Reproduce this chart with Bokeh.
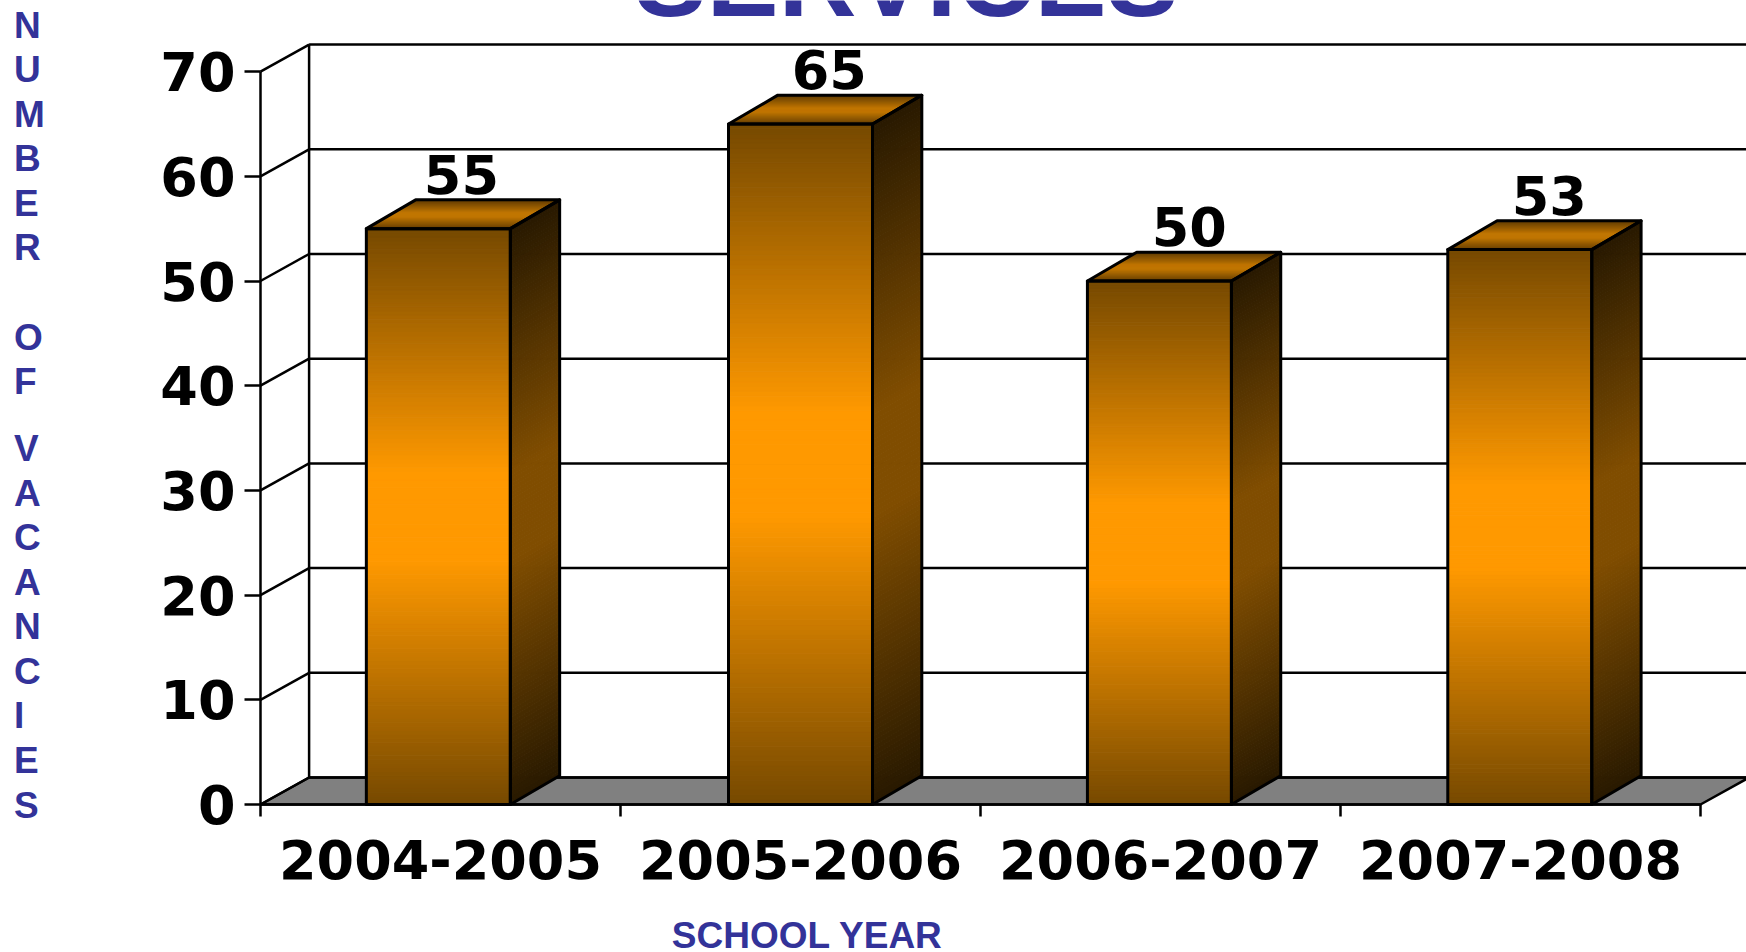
from bokeh.core.properties import value
from bokeh.embed import file_html
from bokeh.models import FixedTicker, Label, LinearAxis, Range1d
from bokeh.plotting import figure
from bokeh.resources import INLINE

# Chart data
school_years = ["2004-2005", "2005-2006", "2006-2007", "2007-2008"]
vacancies = [55, 65, 50, 53]
value_ticks = [0, 10, 20, 30, 40, 50, 60, 70]
title_text = "SERVICES"
x_title = "SCHOOL YEAR"
y_title_letters = list("NUMBEROFVACANCIES")
y_title_rows = [0, 1, 2, 3, 4, 5, 7, 8, 9.5, 10.5, 11.5, 12.5, 13.5, 14.5, 15.5, 16.5, 17.5]

# Page geometry: the plot area fills the page, the axes sit at fixed data positions
PAGE_W, PAGE_H = 1746, 952
ORIGIN_X, ORIGIN_Y = 260, 804
PX_PER_CATEGORY = 360.0
PX_PER_UNIT = 10.47

# Oblique depth of the walls and the bars
WALL_DX, WALL_DY = 0.135, 2.58
BAR_DX, BAR_DY = 0.137, 2.75
BAR_HALF = 0.2
bar_centers = [-0.006, 1.0, 1.997, 2.998]

x_axis_at = -0.5
x_last = 3.5
x_start = x_axis_at - ORIGIN_X / PX_PER_CATEGORY
x_end = x_axis_at + (PAGE_W - ORIGIN_X) / PX_PER_CATEGORY
y_start = -(PAGE_H - ORIGIN_Y) / PX_PER_UNIT
y_end = ORIGIN_Y / PX_PER_UNIT

BLUE = "#333399"
BLACK = "#000000"
FONT_NUM = "DejaVu Sans"
FONT_TXT = "Liberation Sans"
BASELINE_SHIFT = 0.35  # of the font size, lifts SVG text onto its baseline
PLATEAU = 0.85         # share of the way to mid height where a gradient is fully bright


def blend(a, b, t):
    return "#%02x%02x%02x" % tuple(round(a[i] + (b[i] - a[i]) * t) for i in range(3))


def ramp(edge, mid, t):
    # edge colour at both ends, mid colour across the middle
    return blend(edge, mid, min(1.0, (1 - abs(2 * t - 1)) / PLATEAU))


FRONT = ((0x76, 0x49, 0x00), (0xff, 0x99, 0x00))
SIDE = ((0x28, 0x19, 0x00), (0x80, 0x4d, 0x00))
TOP = ((0x62, 0x3c, 0x00), (0xc0, 0x75, 0x00))

p = figure(
    width=PAGE_W, height=PAGE_H, output_backend="svg", toolbar_location=None,
    x_range=Range1d(x_start, x_end), y_range=Range1d(y_start, y_end),
    min_border=0, x_axis_type=None, y_axis_type=None, outline_line_color=None,
    background_fill_color="white", border_fill_color="white",
)
p.grid.visible = False

# Floor
p.patch(
    [x_axis_at, x_last, x_last + WALL_DX, x_axis_at + WALL_DX], [0, 0, WALL_DY, WALL_DY],
    fill_color="#808080", line_color=BLACK, line_width=2.5,
)

# Back wall gridlines, side wall diagonals and wall edge
p.segment(
    [x_axis_at + WALL_DX] * len(value_ticks), [t + WALL_DY for t in value_ticks],
    [x_end] * len(value_ticks), [t + WALL_DY for t in value_ticks],
    line_color=BLACK, line_width=2.5,
)
p.segment(
    [x_axis_at] * len(value_ticks), value_ticks,
    [x_axis_at + WALL_DX] * len(value_ticks), [t + WALL_DY for t in value_ticks],
    line_color=BLACK, line_width=2.5,
)
p.segment(
    [x_axis_at + WALL_DX], [WALL_DY], [x_axis_at + WALL_DX], [value_ticks[-1] + WALL_DY],
    line_color=BLACK, line_width=2.5,
)

# Bars: each face is a stack of thin strips carrying its gradient
STRIPS = 140
TOP_STRIPS = 28
xs, ys, colors = [], [], []
for c, v in zip(bar_centers, vacancies):
    l, r = c - BAR_HALF, c + BAR_HALF
    for k in range(STRIPS):
        y0, y1 = v * k / STRIPS, v * (k + 1) / STRIPS
        t = (k + 0.5) / STRIPS
        xs.append([l, r, r, l])
        ys.append([y0, y0, y1, y1])
        colors.append(ramp(*FRONT, t))
        xs.append([r, r + BAR_DX, r + BAR_DX, r])
        ys.append([y0, y0 + BAR_DY, y1 + BAR_DY, y1])
        colors.append(ramp(*SIDE, t))
    for k in range(TOP_STRIPS):
        a, b = k / TOP_STRIPS, (k + 1) / TOP_STRIPS
        t = (k + 0.5) / TOP_STRIPS
        xs.append([l + a * BAR_DX, r + a * BAR_DX, r + b * BAR_DX, l + b * BAR_DX])
        ys.append([v + a * BAR_DY, v + a * BAR_DY, v + b * BAR_DY, v + b * BAR_DY])
        colors.append(ramp(*TOP, t))
p.patches(xs, ys, fill_color=colors, line_color=colors, line_width=1)

# Bar outlines
out_x, out_y = [], []
for c, v in zip(bar_centers, vacancies):
    l, r = c - BAR_HALF, c + BAR_HALF
    out_x += [[l, r, r, l], [r, r + BAR_DX, r + BAR_DX, r], [l, r, r + BAR_DX, l + BAR_DX]]
    out_y += [[0, 0, v, v], [0, BAR_DY, v + BAR_DY, v], [v, v, v + BAR_DY, v + BAR_DY]]
p.patches(out_x, out_y, fill_color=None, line_color=BLACK, line_width=3, line_join="round")

# Value labels above each bar
label_nudge = [0.058, 0.08, 0.08, 0.08]
p.text(
    [i + label_nudge[i] for i in range(len(vacancies))],
    [v + BAR_DY + 0.65 + BASELINE_SHIFT * 54 / PX_PER_UNIT for v in vacancies],
    text=[str(v) for v in vacancies],
    text_font=value(FONT_NUM), text_font_style="bold", text_font_size="54px",
    text_color=BLACK, text_align="center", text_baseline="alphabetic",
)

# Axes
y_axis = LinearAxis(
    fixed_location=x_axis_at,
    ticker=FixedTicker(ticks=value_ticks), bounds=(0, value_ticks[-1]),
    axis_line_color=BLACK, axis_line_width=2.5,
    major_tick_line_color=BLACK, major_tick_line_width=2.5,
    major_tick_out=16, major_tick_in=0, minor_tick_line_color=None,
    major_label_standoff=9,
    major_label_text_font=FONT_NUM, major_label_text_font_style="bold",
    major_label_text_font_size="54px", major_label_text_color=BLACK,
)
p.add_layout(y_axis, "left")

x_axis = LinearAxis(
    fixed_location=0,
    ticker=FixedTicker(ticks=list(range(len(school_years))),
                       minor_ticks=[i - 0.5 for i in range(len(school_years) + 1)]),
    major_label_overrides={i: s for i, s in enumerate(school_years)},
    bounds=(x_axis_at, x_last),
    axis_line_color=BLACK, axis_line_width=2.5,
    major_tick_line_color=None, major_tick_out=0, major_tick_in=0,
    minor_tick_line_color=BLACK, minor_tick_line_width=2.5,
    minor_tick_out=12, minor_tick_in=0,
    major_label_standoff=23,
    major_label_text_font=FONT_NUM, major_label_text_font_style="bold",
    major_label_text_font_size="54px", major_label_text_color=BLACK,
)
p.add_layout(x_axis, "below")


# Titles, placed in canvas pixels from the top-left corner of the page
def page_label(px, py, text, size, align="left"):
    p.add_layout(Label(
        x=px, y=py - BASELINE_SHIFT * size, x_units="canvas", y_units="canvas",
        text=text, text_align=align, text_baseline="alphabetic",
        text_font=FONT_TXT, text_font_style="bold",
        text_font_size=f"{size}px", text_color=BLUE,
    ))


page_label(906, 16, title_text, 108, "center")
page_label(807, 948, x_title, 37, "center")
for letter, row in zip(y_title_letters, y_title_rows):
    page_label(13.5, 37.5 + row * 44.57, letter, 37)

open("out.html", "w").write(file_html(p, INLINE))
